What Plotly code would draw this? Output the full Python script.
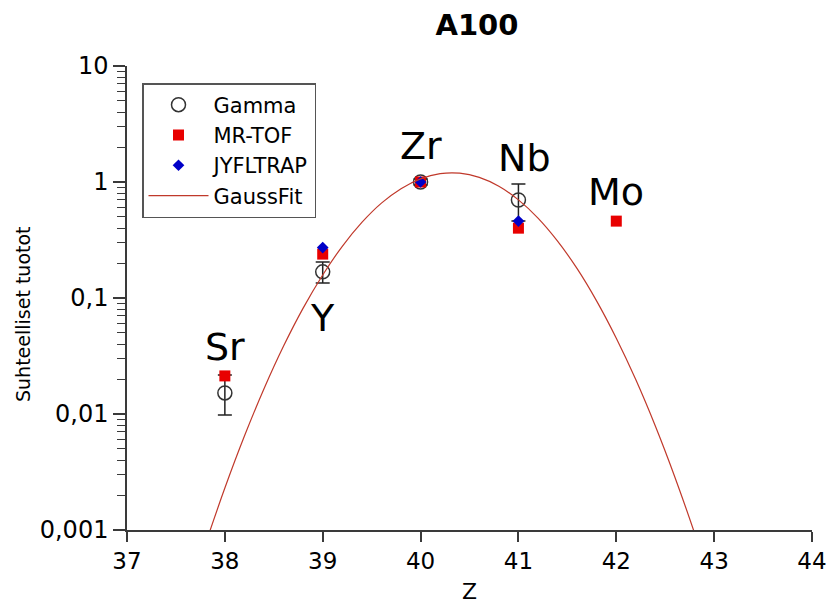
import numpy as np
import plotly.graph_objects as go

# --- data ---
z_gamma = [38, 39, 40, 41]
y_gamma = [0.0152, 0.168, 1.0, 0.70]
err_gamma_plus = [0.0065, 0.036, 0.06, 0.26]
err_gamma_minus = [0.0054, 0.033, 0.06, 0.24]

z_mrtof = [38, 39, 40, 41, 42]
y_mrtof = [0.0213, 0.239, 1.0, 0.40, 0.46]

z_jyfl = [39, 40, 41]
y_jyfl = [0.272, 1.0, 0.46]

z_fit = [37.8, 38.0, 38.2, 38.4, 38.6, 38.8, 39.0, 39.2, 39.4, 39.6, 39.8, 40.0,
         40.2, 40.4, 40.6, 40.8, 41.0, 41.2, 41.4, 41.6, 41.8, 42.0, 42.2, 42.4,
         42.6, 42.8, 42.9]
y_fit = [0.00075, 0.0023, 0.00645, 0.0165, 0.0385, 0.0818, 0.158, 0.279, 0.448,
         0.657, 0.876, 1.065, 1.180, 1.191, 1.095, 0.918, 0.701, 0.488, 0.309,
         0.179, 0.094, 0.045, 0.0197, 0.00784, 0.00284, 0.00094, 0.00052]

element_labels = ["Sr", "Y", "Zr", "Nb", "Mo"]
label_z = [38.0, 39.0, 40.0, 41.06, 42.0]
label_y = [0.038, 0.067, 2.04, 1.61, 0.82]

y_tickvals = [0.001, 0.01, 0.1, 1, 10]
y_ticktext = ["0,001", "0,01", "0,1", "1", "10"]
y_minor_vals = [m * d for d in [0.001, 0.01, 0.1, 1] for m in range(2, 10)]
x_tickvals = [37, 38, 39, 40, 41, 42, 43, 44]

FONT = "DejaVu Sans"
AXIS_COLOR = "#3a3a3a"

L, R, T, B = 127, 15, 66, 76
PW = 827 - L - R
PH = 606 - T - B

fig = go.Figure()

fig.add_trace(go.Scatter(
    x=z_gamma, y=y_gamma, mode="markers", name="Gamma",
    marker=dict(symbol="circle-open", size=14, color="#333333", line=dict(width=1.5)),
    error_y=dict(type="data", symmetric=False, array=err_gamma_plus,
                 arrayminus=err_gamma_minus, color="#222222", thickness=1.5, width=7),
))
fig.add_trace(go.Scatter(
    x=z_mrtof, y=y_mrtof, mode="markers", name="MR-TOF",
    marker=dict(symbol="square", size=11, color="#e80000"),
))
fig.add_trace(go.Scatter(
    x=z_jyfl, y=y_jyfl, mode="markers", name="JYFLTRAP",
    marker=dict(symbol="diamond", size=9, color="#0000c8"),
))
fig.add_trace(go.Scatter(
    x=z_fit, y=y_fit, mode="lines", name="GaussFit",
    line=dict(color="#c0392b", width=1.2, shape="spline"),
))

for lab, zx, zy in zip(element_labels, label_z, label_y):
    fig.add_annotation(x=zx, y=np.log10(zy), text=lab, showarrow=False,
                       font=dict(family=FONT, size=38, color="black"),
                       xanchor="center", yanchor="middle")

# y-axis title placed as rotated annotation (slightly below axis centre, as in reference)
fig.add_annotation(x=(23 - L) / PW, y=(606 - B - 314) / PH, xref="paper", yref="paper",
                   text="Suhteelliset tuotot", textangle=-90, showarrow=False,
                   font=dict(family=FONT, size=19, color="black"),
                   xanchor="center", yanchor="middle")

fig.update_layout(
    width=827, height=606,
    margin=dict(l=L, r=R, t=T, b=B),
    paper_bgcolor="white", plot_bgcolor="white",
    font=dict(family=FONT, color="black"),
    title=dict(text="<b>A100</b>", x=477 / 827, xref="container", xanchor="center",
               y=1 - 25 / 606, yref="container", yanchor="middle",
               font=dict(family=FONT, size=29, color="black")),
    legend=dict(x=(142 - L) / PW, y=(606 - B - 83) / PH, xanchor="left", yanchor="top",
                bgcolor="white", bordercolor="#555555", borderwidth=1.5,
                itemwidth=60,
                font=dict(family=FONT, size=21, color="black")),
    showlegend=True,
)

fig.update_xaxes(
    range=[37, 44], tickvals=x_tickvals, showgrid=False, zeroline=False,
    showline=True, linecolor=AXIS_COLOR, linewidth=1.5, automargin=False,
    ticks="outside", ticklen=10, tickcolor=AXIS_COLOR, tickwidth=1.5,
    ticklabeloverflow="allow",
    tickfont=dict(family=FONT, size=23, color="black"),
    title=dict(text="Z", font=dict(family=FONT, size=22, color="black"), standoff=10),
)
fig.update_yaxes(
    type="log", range=[-3, 1], tickvals=y_tickvals, ticktext=y_ticktext,
    showgrid=False, zeroline=False, automargin=False,
    showline=True, linecolor=AXIS_COLOR, linewidth=1.5,
    ticks="outside", ticklen=12, tickcolor=AXIS_COLOR, tickwidth=1.5,
    minor=dict(tickvals=y_minor_vals, ticks="outside", ticklen=8,
               tickcolor=AXIS_COLOR, tickwidth=1, showgrid=False),
    tickfont=dict(family=FONT, size=24, color="black"),
)

fig.write_html("out.html")
